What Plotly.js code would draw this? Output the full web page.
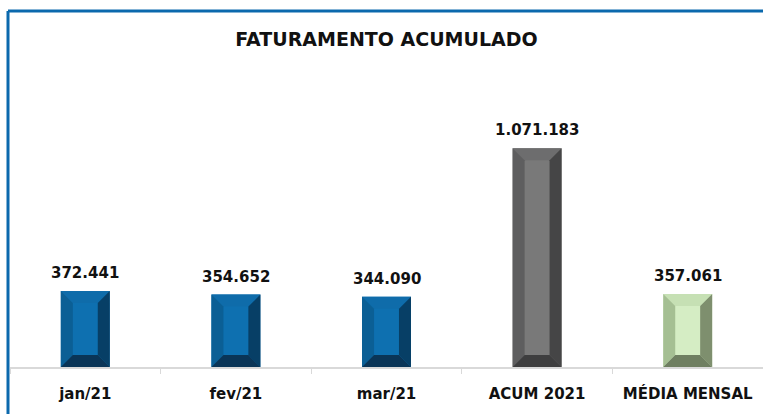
<!DOCTYPE html>
<html>
<head>
<meta charset="utf-8">
<script src="https://cdn.plot.ly/plotly-3.0.1.min.js"></script>
<style>
html,body{margin:0;padding:0;background:#fff;}
#chart{width:763px;height:414px;}
</style>
</head>
<body>
<div id="chart"></div>
<script>
// ---- data ----
const categories = ["jan/21", "fev/21", "mar/21", "ACUM 2021", "MÉDIA MENSAL"];
const values = [372441, 354652, 344090, 1071183, 357061];
const valueLabels = ["372.441", "354.652", "344.090", "1.071.183", "357.061"];

// ---- styles ----
const palettes = {
  blue:  {face:"#0E70B0", top:"#0F6CAA", left:"#0B5F95", right:"#073F66", bottom:"#0A3557"},
  gray:  {face:"#797979", top:"#6D6D6E", left:"#5E5E5F", right:"#454546", bottom:"#3E3E3F"},
  green: {face:"#D5EDC4", top:"#C6E0B4", left:"#A5BF93", right:"#7E8F6E", bottom:"#6F7F61"}
};
const barPalette = ["blue","blue","blue","gray","green"];

const W = 763, H = 414;
const margin = {l:10, r:0, t:60, b:47};
const plotW = W - margin.l - margin.r;
const plotH = H - margin.t - margin.b;
const xRange = [-0.5, categories.length - 0.5];
const yRange = [0, 1504000];
const barWidth = 0.325;
const bevelPx = 12;
const bx = bevelPx / plotW * (xRange[1]-xRange[0]);
const by = bevelPx / plotH * (yRange[1]-yRange[0]);
const xs = categories.map((c,i)=>i);

const traces = [];
traces.push({
  type:"bar", x:xs, y:values, width:barWidth,
  marker:{color:barPalette.map(p=>palettes[p].face), line:{width:0}},
  hoverinfo:"skip", showlegend:false
});

const hw = barWidth/2;
xs.forEach((x,i)=>{
  const v = values[i];
  const p = palettes[barPalette[i]];
  const facets = {
    top:    [[x-hw,v],[x+hw,v],[x+hw-bx,v-by],[x-hw+bx,v-by]],
    left:   [[x-hw,v],[x-hw+bx,v-by],[x-hw+bx,by],[x-hw,0]],
    right:  [[x+hw,v],[x+hw,0],[x+hw-bx,by],[x+hw-bx,v-by]],
    bottom: [[x-hw,0],[x-hw+bx,by],[x+hw-bx,by],[x+hw,0]]
  };
  Object.keys(facets).forEach(k=>{
    const pts = facets[k].concat([facets[k][0]]);
    traces.push({
      type:"scatter", mode:"lines", fill:"toself",
      x:pts.map(q=>q[0]), y:pts.map(q=>q[1]),
      fillcolor:p[k], line:{width:0, color:p[k]},
      hoverinfo:"skip", showlegend:false
    });
  });
});

const annotations = xs.map((x,i)=>({
  x:x, y:values[i], xref:"x", yref:"y",
  text:"<b>"+valueLabels[i]+"</b>", showarrow:false,
  yanchor:"bottom", yshift:7,
  font:{family:"DejaVu Sans, sans-serif", size:15, color:"#111"}
}));

const bx0 = -2/plotW, lineTopY = (plotH + margin.t - 11)/plotH;
const layout = {
  width:W, height:H,
  margin:margin,
  paper_bgcolor:"#fff", plot_bgcolor:"#fff",
  showlegend:false,
  title:{
    text:"<b>FATURAMENTO ACUMULADO</b>",
    font:{family:"DejaVu Sans, sans-serif", size:19, color:"#111"},
    x:0.5, xref:"paper", y:1-39/H, yanchor:"middle"
  },
  xaxis:{
    range:xRange, tickmode:"array", tickvals:xs,
    ticktext:categories.map(c=>"<b>"+c+"</b>"),
    tickfont:{family:"DejaVu Sans, sans-serif", size:15, color:"#111"},
    ticklabelstandoff:12,
    showline:true, linecolor:"#D9D9D9", linewidth:2,
    ticks:"", showgrid:false, zeroline:false, fixedrange:true,
    minor:{ticks:"outside", tick0:0.5, dtick:1, ticklen:5, tickcolor:"#D9D9D9", tickwidth:1, showgrid:false}
  },
  yaxis:{
    range:yRange, visible:false, showgrid:false, zeroline:false, fixedrange:true
  },
  annotations:annotations,
  shapes:[
    {type:"line", xref:"paper", yref:"paper", x0:bx0, x1:1.01, y0:lineTopY, y1:lineTopY, line:{color:"#0B69AD", width:3}},
    {type:"line", xref:"paper", yref:"paper", x0:bx0, x1:bx0, y0:lineTopY, y1:-0.2, line:{color:"#0B69AD", width:3}}
  ]
};

Plotly.newPlot("chart", traces, layout, {displayModeBar:false, staticPlot:true});
</script>
</body>
</html>
